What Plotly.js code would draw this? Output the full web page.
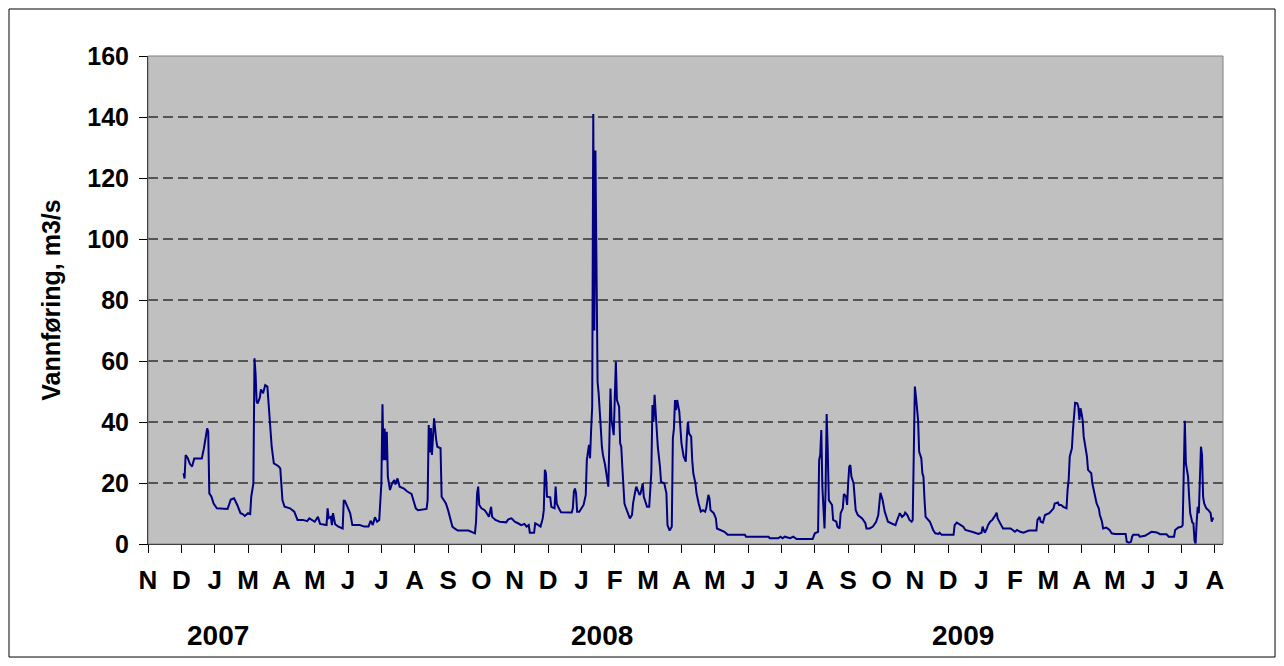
<!DOCTYPE html>
<html>
<head>
<meta charset="utf-8">
<script src="https://cdn.plot.ly/plotly-3.0.1.min.js"></script>
<style>
html,body{margin:0;padding:0;background:#fff;}
#chart{width:1284px;height:666px;}
</style>
</head>
<body>
<div id="chart"></div>
<script>
// Day offsets counted from the axis start date (2006-11-30)
const startDate = '2006-11-30';
const dayOffsets = [
 33,34,35,37,39,41,43,50,52,54,55,56,57,59,61,64,74,77,80,83,86,88,90,93,95,96,98,
 99,100,101,102,104,105,107,109,111,113,115,117,121,123,125,127,132,136,139,144,148,150,155,158,160,
 166,167,168,170,171,172,174,177,181,182,183,186,188,190,197,201,205,207,209,211,213,215,216,217,
 218,219,220,221,222,223,225,227,229,230,232,234,238,241,245,246,249,251,259,260,
 261,262,263,264,265,266,268,269,272,273,275,277,279,281,283,285,288,298,302,304,
 305,306,307,308,310,313,315,317,319,320,323,327,333,335,338,341,344,347,350,352,354,355,359,360,363,365,
 367,368,369,370,371,374,375,378,379,380,382,384,394,395,396,397,398,399,401,403,405,407,
 408,410,411,412,413,414,415,416,417,418,419,420,421,422,423,425,426,428,429,430,431,433,434,435,436,438,
 439,440,441,443,444,446,448,450,451,453,454,457,458,460,461,464,466,467,468,469,470,471,473,474,476,477,
 480,482,483,485,487,488,489,490,491,492,494,496,498,500,501,502,503,505,506,507,509,510,512,514,516,
 518,519,521,522,523,526,528,529,533,536,539,555,556,577,578,586,588,590,592,597,600,603,618,620,623,
 624,625,626,627,628,629,630,631,632,633,636,637,640,641,643,644,646,647,649,650,651,652,653,654,656,657,
 658,660,664,667,668,671,674,677,679,680,681,683,685,687,688,691,695,696,698,699,701,703,704,706,708,710,
 711,712,713,714,715,716,717,719,720,721,722,723,727,729,730,732,735,736,738,749,750,752,755,758,760,763,
 766,769,772,775,776,777,778,780,781,783,785,788,789,790,792,794,795,802,804,806,808,811,814,819,826,827,
 829,830,832,834,838,840,842,843,846,847,849,851,854,855,856,857,859,860,862,864,865,866,867,868,869,870,
 871,873,874,877,878,880,882,884,885,887,888,891,894,896,899,909,910,912,914,915,916,921,922,927,930,933,
 938,941,947,949,954,955,958,961,962,963,964,965,966,967,968,969,971,972,973,974,975,976,977,978,979,980,
 981,982,984,986,988,989,990,991
];
// Vannføring (m3/s)
const flow = [
 23.2,21.5,29.2,28.1,26.2,25.4,28.0,28.0,31.4,36.3,37.9,36.8,16.6,15.5,13.3,11.7,11.5,14.6,15.0,12.8,10.1,9.8,9.2,10.1,9.8,15.5,19.9,
 60.9,56.0,46.7,46.1,48.0,50.7,49.4,52.1,51.6,40.7,31.9,26.4,25.6,24.8,14.4,12.2,11.7,10.6,7.9,7.9,7.5,8.4,7.3,8.9,6.6,
 6.2,11.7,8.5,8.9,6.2,10.1,6.5,5.7,5.1,14.2,14.2,11.7,10.1,6.2,6.2,5.7,5.7,7.6,6.2,8.8,7.3,7.9,16.6,19.9,
 45.8,27.5,37.9,27.5,36.8,22.1,17.7,19.9,21.0,19.5,21.5,18.8,18.2,17.2,16.4,15.0,11.7,11.1,11.5,14.4,
 39.0,30.0,38.0,29.2,36.3,41.2,34.0,31.9,31.4,15.5,14.4,13.3,11.1,7.9,5.7,5.1,4.4,4.4,3.7,3.5,
 7.3,16.6,18.8,12.8,11.7,11.1,10.1,8.9,12.2,8.9,7.9,7.3,7.1,8.1,8.4,7.3,6.8,6.2,6.6,5.7,6.2,3.7,3.7,6.8,6.2,5.7,
 8.4,11.1,24.3,23.2,15.5,15.3,12.2,11.7,18.8,13.3,11.7,10.4,10.3,11.7,17.2,18.2,16.6,10.6,10.6,11.7,12.8,16.1,
 27.5,32.5,28.1,37.4,45.0,141.0,70.0,129.0,71.0,53.2,49.4,45.0,38.0,31.9,29.2,25.9,23.2,18.8,34.1,51.0,40.7,35.7,47.8,59.8,47.2,45.0,
 33.0,31.9,25.4,13.3,12.2,10.1,8.4,9.5,13.3,17.2,18.8,16.1,16.6,19.9,15.5,12.2,12.2,17.7,23.7,45.6,40.0,48.9,36.3,31.9,25.4,20.4,
 19.9,16.6,6.2,4.4,5.7,34.6,37.9,47.2,43.9,47.2,43.4,33.0,28.7,27.0,35.2,40.1,36.3,35.2,27.5,23.2,19.9,16.6,13.3,10.6,11.1,
 10.6,11.7,16.1,15.0,11.1,10.1,8.4,5.1,4.6,4.0,3.0,3.0,2.4,2.4,1.9,1.9,2.4,1.9,2.4,1.9,2.4,1.6,1.6,3.5,4.0,
 27.5,29.2,37.4,18.8,8.9,5.1,17.7,42.6,30.8,14.4,12.8,7.9,7.3,5.7,5.1,10.1,11.7,16.4,15.5,12.8,19.9,25.4,25.9,22.1,19.9,13.9,
 11.1,9.5,8.4,6.8,5.1,5.1,5.7,7.3,9.5,13.3,16.8,14.4,10.6,8.4,7.3,6.8,6.2,7.3,9.5,10.1,8.9,9.5,10.3,9.5,7.9,7.3,
 7.9,32.5,51.6,48.3,43.9,40.7,30.2,28.1,23.2,22.1,14.4,8.9,7.3,5.1,4.6,3.5,3.3,3.7,3.0,3.0,6.2,7.0,6.4,5.7,4.6,4.4,
 4.0,3.7,3.3,3.7,5.7,4.6,3.7,5.1,6.2,7.3,7.9,9.5,10.3,8.4,6.8,5.7,5.1,5.1,4.6,4.0,4.6,4.0,3.7,4.4,4.4,7.9,
 8.9,7.3,7.0,9.5,10.1,11.1,11.7,13.3,13.6,12.8,12.8,12.2,11.7,17.7,21.0,28.6,31.4,37.4,46.3,46.1,45.0,40.7,44.5,42.8,40.7,35.2,
 33.0,28.7,24.3,23.2,19.9,16.1,13.3,11.7,9.5,7.3,5.1,5.4,4.6,3.5,3.3,3.3,0.8,0.4,0.8,2.4,3.0,3.0,2.4,2.7,3.5,4.0,
 3.8,3.2,3.2,2.4,2.4,4.6,5.4,5.7,6.2,24.8,40.4,26.4,23.2,22.1,15.5,10.1,7.0,6.8,1.3,0.0,7.0,12.2,10.1,19.9,31.9,29.2,
 15.5,13.3,11.7,11.1,10.1,7.3,8.4,8.4
];
// Month ticks (31-day spacing as on the original axis)
const tickDates = ['2006-11-30','2006-12-31','2007-01-31','2007-03-03','2007-04-03','2007-05-04','2007-06-04','2007-07-05','2007-08-05','2007-09-05','2007-10-06','2007-11-06','2007-12-07','2008-01-07','2008-02-07','2008-03-09','2008-04-09','2008-05-10','2008-06-10','2008-07-11','2008-08-11','2008-09-11','2008-10-12','2008-11-12','2008-12-13','2009-01-13','2009-02-13','2009-03-16','2009-04-16','2009-05-17','2009-06-17','2009-07-18','2009-08-18'];
const tickLetters = ['N','D','J','M','A','M','J','J','A','S','O','N','D','J','F','M','A','M','J','J','A','S','O','N','D','J','F','M','A','M','J','J','A'];
const yearLabels = ['2007','2008','2009'];
const yearLabelDates = ['2007-02-03','2008-01-26','2008-12-27'];
const yTitle = 'Vannføring, m3/s';

function toDate(d){
  const t = Date.UTC(2006,10,30) + d*86400000;
  return new Date(t).toISOString().slice(0,10);
}
const xDates = dayOffsets.map(toDate);

const FONT = 'Arial, "Liberation Sans", sans-serif';

const trace = {
  x: xDates, y: flow, type: 'scatter', mode: 'lines',
  line: {color: '#000080', width: 2}, hoverinfo: 'skip'
};

const annotations = yearLabels.map((t,i)=>({
  text: t, x: yearLabelDates[i], xref: 'x', y: -0.1865, yref: 'paper',
  showarrow: false, xanchor: 'center', yanchor: 'middle',
  font: {family: FONT, size: 28, color: '#000', weight: 'bold'}
}));

const layout = {
  width: 1284, height: 666,
  margin: {l: 148, r: 61, t: 56, b: 122},
  paper_bgcolor: '#ffffff', plot_bgcolor: '#c0c0c0',
  showlegend: false,
  font: {family: FONT, color: '#000'},
  xaxis: {
    type: 'date', range: ['2006-11-30', '2009-08-25 12:00'],
    tickmode: 'array', tickvals: tickDates, ticktext: tickLetters,
    ticks: 'outside', ticklen: 8, tickcolor: '#000', tickwidth: 1,
    showgrid: false, zeroline: false,
    showline: true, linecolor: '#000', linewidth: 1,
    ticklabelstandoff: 5,
    tickfont: {family: FONT, size: 26, color: '#000', weight: 'bold'},
    fixedrange: true
  },
  yaxis: {
    range: [0, 160], tickmode: 'linear', tick0: 0, dtick: 20,
    ticks: 'outside', ticklen: 8, tickcolor: '#000', tickwidth: 1,
    showgrid: true, gridcolor: '#555555', gridwidth: 1.3, griddash: '10px,5px',
    zeroline: false, showline: true, linecolor: '#000', linewidth: 1,
    ticklabelstandoff: 5,
    tickfont: {family: FONT, size: 25, color: '#000', weight: 'bold'},
    title: {text: yTitle, standoff: 19, font: {family: FONT, size: 25, color: '#000', weight: 'bold'}},
    fixedrange: true
  },
  annotations: annotations,
  shapes: [
    {type: 'rect', xref: 'paper', yref: 'paper', x0: 0, x1: 1, y0: 0, y1: 1,
     line: {color: '#808080', width: 1}, fillcolor: 'rgba(0,0,0,0)', layer: 'above'},
    {type: 'rect', xref: 'paper', yref: 'paper', x0: -0.1293, x1: 1.0484, y0: -0.2316, y1: 1.0963,
     line: {color: '#000', width: 1}, fillcolor: 'rgba(0,0,0,0)', layer: 'above'}
  ]
};

Plotly.newPlot('chart', [trace], layout, {displayModeBar: false, staticPlot: true});
</script>
</body>
</html>
